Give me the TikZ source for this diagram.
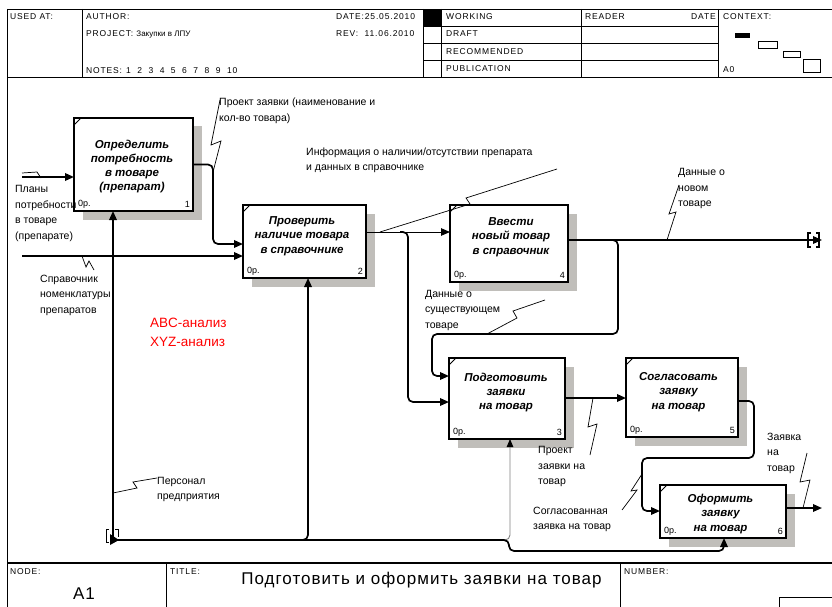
\documentclass[tikz,border=0pt]{standalone}
\usepackage{fontspec}
\setmainfont{Liberation Sans}
\newfontfamily\hdrfont[LetterSpace=10]{Liberation Sans}
\newfontfamily\titlefont[LetterSpace=6]{Liberation Sans}
\usetikzlibrary{arrows.meta,shadows}
\definecolor{shadowgray}{RGB}{192,190,186}
\definecolor{abcred}{RGB}{255,0,0}
\begin{document}
\begin{tikzpicture}[x=1pt,y=-1pt,
  idbox/.style={draw,line width=1.2pt,fill=white,inner sep=0,outer sep=0,
    drop shadow={shadow xshift=8.5pt,shadow yshift=-8.5pt,fill=shadowgray,opacity=1}},
  arr/.style={line width=1.7pt,-{Triangle[length=9pt,width=7.5pt]},rounded corners=5pt},
  tarr/.style={line width=0.9pt,-{Triangle[length=9pt,width=7.5pt]}},
  garr/.style={line width=0.9pt,gray,rounded corners=5pt,-{Triangle[length=8pt,width=6.5pt,color=black,fill=black]}},
  sq/.style={line width=0.7pt},
  lbl/.style={font=\fontsize{10.5}{15.5}\selectfont,align=left,inner sep=0,anchor=west},
  ttl/.style={font=\fontsize{11.5}{14.3}\selectfont\bfseries\itshape,align=center,inner sep=0},
  sml/.style={font=\fontsize{9}{10}\selectfont,inner sep=0},
  hdr/.style={font=\hdrfont\fontsize{8.5}{10}\selectfont,inner sep=0,anchor=west},
  frm/.style={line width=0.8pt},
  tick/.style={line width=0.8pt}]
\path[use as bounding box] (0,0) rectangle (832,607);

% ---------- header frame ----------
\draw[frm] (7,9) -- (832,9);
\draw[frm] (7,9) -- (7,607);
\draw[line width=1.3pt] (7,77.5) -- (832,77.5);
\draw[frm] (82,9) -- (82,77.5);
\draw[frm] (423,9) -- (423,77.5);
\draw[frm] (441,9) -- (441,77.5);
\draw[frm] (581,9) -- (581,77.5);
\draw[frm] (718,9) -- (718,77.5);
\draw[frm] (423,26) -- (718,26);
\draw[frm] (423,43) -- (718,43);
\draw[frm] (423,60) -- (718,60);
\fill (423,9) rectangle (441,26);
\node[hdr] (usedat) at (10,17) {USED AT:};
\node[hdr] (author) at (86,17) {AUTHOR:};
\node[hdr] (project) at (86,34) {PROJECT:\ {\normalfont\fontsize{8}{10}\selectfont Закупки в ЛПУ}};
\node[hdr] (notes) at (86,71) {NOTES:\hspace{4pt}1\hspace{6.5pt}2\hspace{6.5pt}3\hspace{6.5pt}4\hspace{6.5pt}5\hspace{6.5pt}6\hspace{6.5pt}7\hspace{6.5pt}8\hspace{6.5pt}9\hspace{6.5pt}10};
\node[hdr] (date) at (336,17) {DATE:25.05.2010};
\node[hdr] (rev) at (336,34) {REV:\ \ 11.06.2010};
\node[hdr] (working) at (446,17) {WORKING};
\node[hdr] (draft) at (446,34) {DRAFT};
\node[hdr] (recom) at (446,51.5) {RECOMMENDED};
\node[hdr] (publ) at (446,69) {PUBLICATION};
\node[hdr] (reader) at (585,17) {READER};
\node[hdr,anchor=east] (rdate) at (716,17) {DATE};
\node[hdr] (context) at (723,17) {CONTEXT:};
\node[hdr] (a0) at (723,70) {A0};
\fill (735,33) rectangle (750,38);
\draw[frm] (758,41) rectangle (777,48);
\draw[frm] (783,51) rectangle (800,57);
\draw[frm] (803,59) rectangle (820,72);

% ---------- footer ----------
\draw[line width=1.3pt] (7,563) -- (832,563);
\draw[frm] (166,563) -- (166,607);
\draw[frm] (620,563) -- (620,607);
\draw[frm] (779,607) -- (779,597) -- (832,597);
\node[hdr] (nodel) at (10,572) {NODE:};
\node[hdr] (titlel) at (170,572) {TITLE:};
\node[hdr] (numberl) at (624,572) {NUMBER:};
\node[inner sep=0,font=\titlefont\fontsize{17}{19}\selectfont] (a1) at (84,594) {A1};
\node[inner sep=0,font=\titlefont\fontsize{17}{19}\selectfont] (title) at (421.5,580) {Подготовить и оформить заявки на товар};

% ---------- boxes ----------
\node[idbox,minimum width=119pt,minimum height=93pt] (b1) at (133.5,164.5) {};
\node[idbox,minimum width=123pt,minimum height=73pt] (b2) at (304.5,241.5) {};
\node[idbox,minimum width=118pt,minimum height=77pt] (b4) at (509,243.5) {};
\node[idbox,minimum width=116pt,minimum height=81pt] (b3) at (507,398.5) {};
\node[idbox,minimum width=112pt,minimum height=79pt] (b5) at (682,397.5) {};
\node[idbox,minimum width=126pt,minimum height=53pt] (b6) at (723,511.5) {};

\foreach \b in {b1,b2,b3,b4,b5,b6}{
  \draw[tick] (\b.north west) ++(0,7) -- ++(7,-7);
}

\node[ttl] (t1) at (132,166.5) {Определить\\потребность\\в товаре\\(препарат)};
\node[ttl] (t2) at (302,236) {Проверить\\наличие товара\\в справочнике};
\node[ttl] (t4) at (511,237) {Ввести\\новый товар\\в справочник};
\node[ttl] (t3) at (506,392.5) {Подготовить\\заявки\\на товар};
\node[ttl] (t5) at (678.5,392) {Согласовать\\заявку\\на товар};
\node[ttl] (t6) at (720.5,514) {Оформить\\заявку\\на товар};

\foreach \b/\n in {b1/1,b2/2,b3/3,b4/4,b5/5,b6/6}{
  \node[sml,anchor=west] (z\n) at ([xshift=4pt,yshift=6.5pt]\b.south west) {0р.};
  \node[sml,anchor=east] (n\n) at ([xshift=-3pt,yshift=6.5pt]\b.south east) {\n};
}

% ---------- arrows ----------
\coordinate (p1) at (22,177);
\draw[arr] (p1) -- (p1 -| b1.west);
\coordinate (p2) at (22,256);
\draw[arr] (p2) -- (p2 -| b2.west);
\draw[arr] (b1.east) -- (213,164.5) -- (213,244) -- (b2.west |- 0,244);
\draw[tarr] (b2.east |- 0,232) -- (b4.west |- 0,232);
\coordinate (j2) at (400,232);
\draw[arr] (j2) -- (408,232) -- (408,402) -- (b3.west |- 0,402);
\coordinate (o4) at (822,240);
\draw[arr] (b4.east |- 0,240) -- (o4);
\coordinate (j4) at (610,240);
\draw[arr] (j4) -- (618,240) -- (618,334) -- (432,334) -- (432,376) -- (b3.west |- 0,376);
\draw[arr] (b3.east |- 0,398) -- (b5.west |- 0,398);
\draw[arr] (b5.east |- 0,401) -- (754,401) -- (754,458) -- (642,458) -- (642,511) -- (b6.west |- 0,511);
\coordinate (o6) at (822,508);
\draw[arr] (b6.east |- 0,508) -- (o6);

% mechanisms
\coordinate (m0) at (113,540);
\coordinate (j5) at (298,540);
\coordinate (j6) at (500,540);
\draw[garr] (j6) -- (510,540) -- (b3.south -| 510,0);
\draw[arr] (j5) -- (308,540) -- (b2.south -| 308,0);
\draw[arr] (m0) -- (m0 |- b1.south);
\draw[arr] (m0) -- (509,540) -- (509,551) -- (724,551) -- (b6.south -| 724,0);

% tunnels
\draw[line width=1.3pt] (811,233) -- (808,233) -- (808,247) -- (811,247);
\draw[line width=1.3pt] (816,233) -- (819,233) -- (819,247) -- (816,247);
\draw[line width=0.9pt] (109,529) -- (106,529) -- (106,542) -- (109,542);
\draw[line width=0.9pt] (115,529) -- (118,529) -- (118,537);
\fill (110,534) -- (119,540) -- (110,545) -- cycle;

% ---------- labels & squiggles ----------
\node[lbl] (l1) at (219,111) {Проект заявки (наименование и\\кол-во товара)};
\draw[sq] (220,100) -- (211,145) -- (221,141) -- (213,172);
\node[lbl] (l2) at (15,213.5) {Планы\\потребности\\в товаре\\(препарате)};
\draw[sq] (22,173) -- (37,172) -- (41,178);
\node[lbl] (l3) at (40,295) {Справочник\\номенклатуры\\препаратов};
\draw[sq] (82,256) -- (86,267) -- (89,261) -- (94,270);
\node[lbl] (l4) at (306,160.5) {Информация о наличии/отсутствии препарата\\и данных в справочнике};
\draw[sq] (380,232) -- (470,204) -- (466,198) -- (557,169);
\node[lbl] (l5) at (678,188.5) {Данные о\\новом\\товаре};
\draw[sq] (679,185) -- (669,214) -- (676,212) -- (667,240);
\node[lbl] (l6) at (425,310) {Данные о\\существующем\\товаре};
\draw[sq] (487,334) -- (517,318) -- (513,311) -- (545,300);
\node[lbl] (l7) at (538,466.5) {Проект\\заявки на\\товар};
\draw[sq] (593,398) -- (588,427) -- (597,424) -- (590,455);
\node[lbl] (l8) at (533,519.5) {Согласованная\\заявка на товар};
\draw[sq] (622,510) -- (637,490) -- (631,491) -- (642,474);
\node[lbl] (l9) at (767,453) {Заявка\\на\\товар};
\draw[sq] (807,453) -- (800,482) -- (810,480) -- (803,508);
\node[lbl] (l10) at (157,489.5) {Персонал\\предприятия};
\draw[sq] (113,493) -- (137,488) -- (133,482) -- (157,478);

\node[lbl,text=abcred,font=\fontsize{13.5}{19}\selectfont] (abc) at (150,332.5) {ABC-анализ\\XYZ-анализ};
\end{tikzpicture}
\end{document}
